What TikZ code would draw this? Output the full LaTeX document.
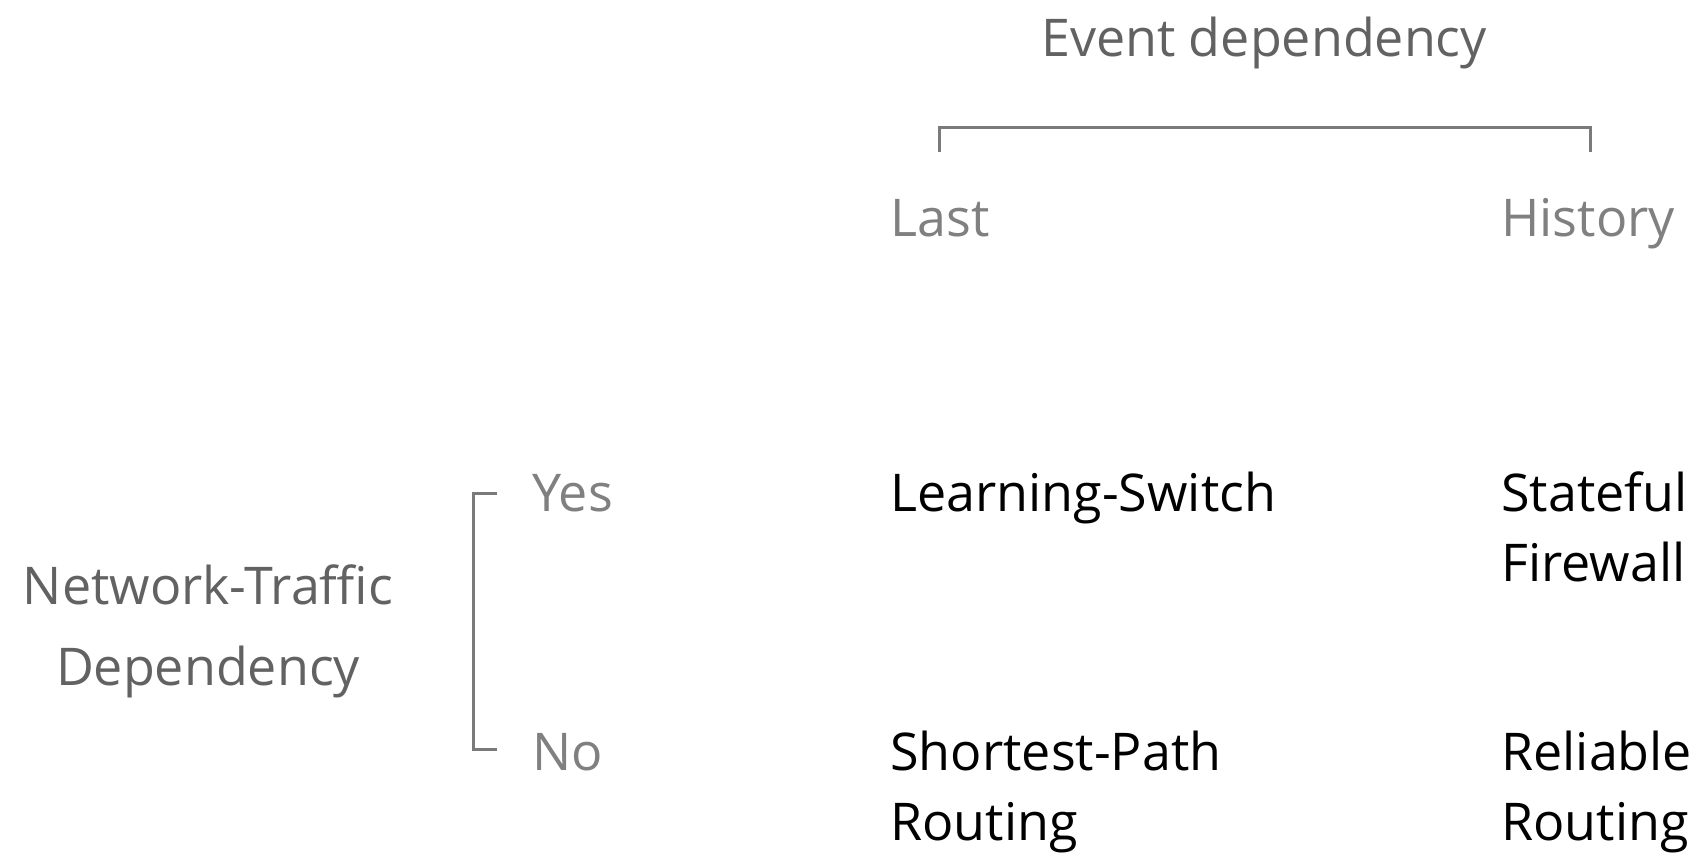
\documentclass[tikz,border=0pt]{standalone}
\usepackage{fontspec}
\setmainfont{Open Sans}
\definecolor{headgray}{HTML}{626262}
\definecolor{optgray}{HTML}{808080}
\definecolor{rulegray}{HTML}{7A7A7A}
\begin{document}
\begin{tikzpicture}[x=0.5pt,y=-0.5pt,
  txt/.style={anchor=base west,inner sep=0pt,font=\fontsize{26}{35}\selectfont},
  head/.style={txt,text=headgray},
  opt/.style={txt,text=optgray},
  item/.style={txt,text=black,align=left}, % multi-line: base = last line
  rulerline/.style={draw=rulegray,line width=1.5pt}]
\fill[white] (0,0) rectangle (1702,854);
\useasboundingbox (0,0) rectangle (1702,854);
% column header
\node[head,anchor=base] (ev) at (1264,57) {Event dependency};
\coordinate (bl) at (939,152);
\coordinate (br) at (1590,152);
\draw[rulerline] (bl) -- ++(0,-24) -| (br);
\node[opt] (last) at (890,237) {Last};
\node[opt] (hist) at (1501,237) {History};
% row header
\node[head,anchor=base,align=center,font=\fontsize{26}{40.5}\selectfont] (nt) at (208,686) {Network-Traffic\\Dependency};
\coordinate (yt) at (497,494);
\coordinate (nb) at (497,749);
\draw[rulerline] (yt) -- ++(-24,0) |- (nb);
\node[opt] (yes) at (532,512) {Yes};
\node[opt] (no) at (532,770) {No};
% cells
\node[item] (ls) at (890,512) {Learning-Switch};
\node[item] (sf) at (1501,582) {Stateful\\Firewall};
\node[item] (sp) at (890,840) {Shortest-Path\\Routing};
\node[item] (rr) at (1501,840) {Reliable\\Routing};
\end{tikzpicture}
\end{document}
